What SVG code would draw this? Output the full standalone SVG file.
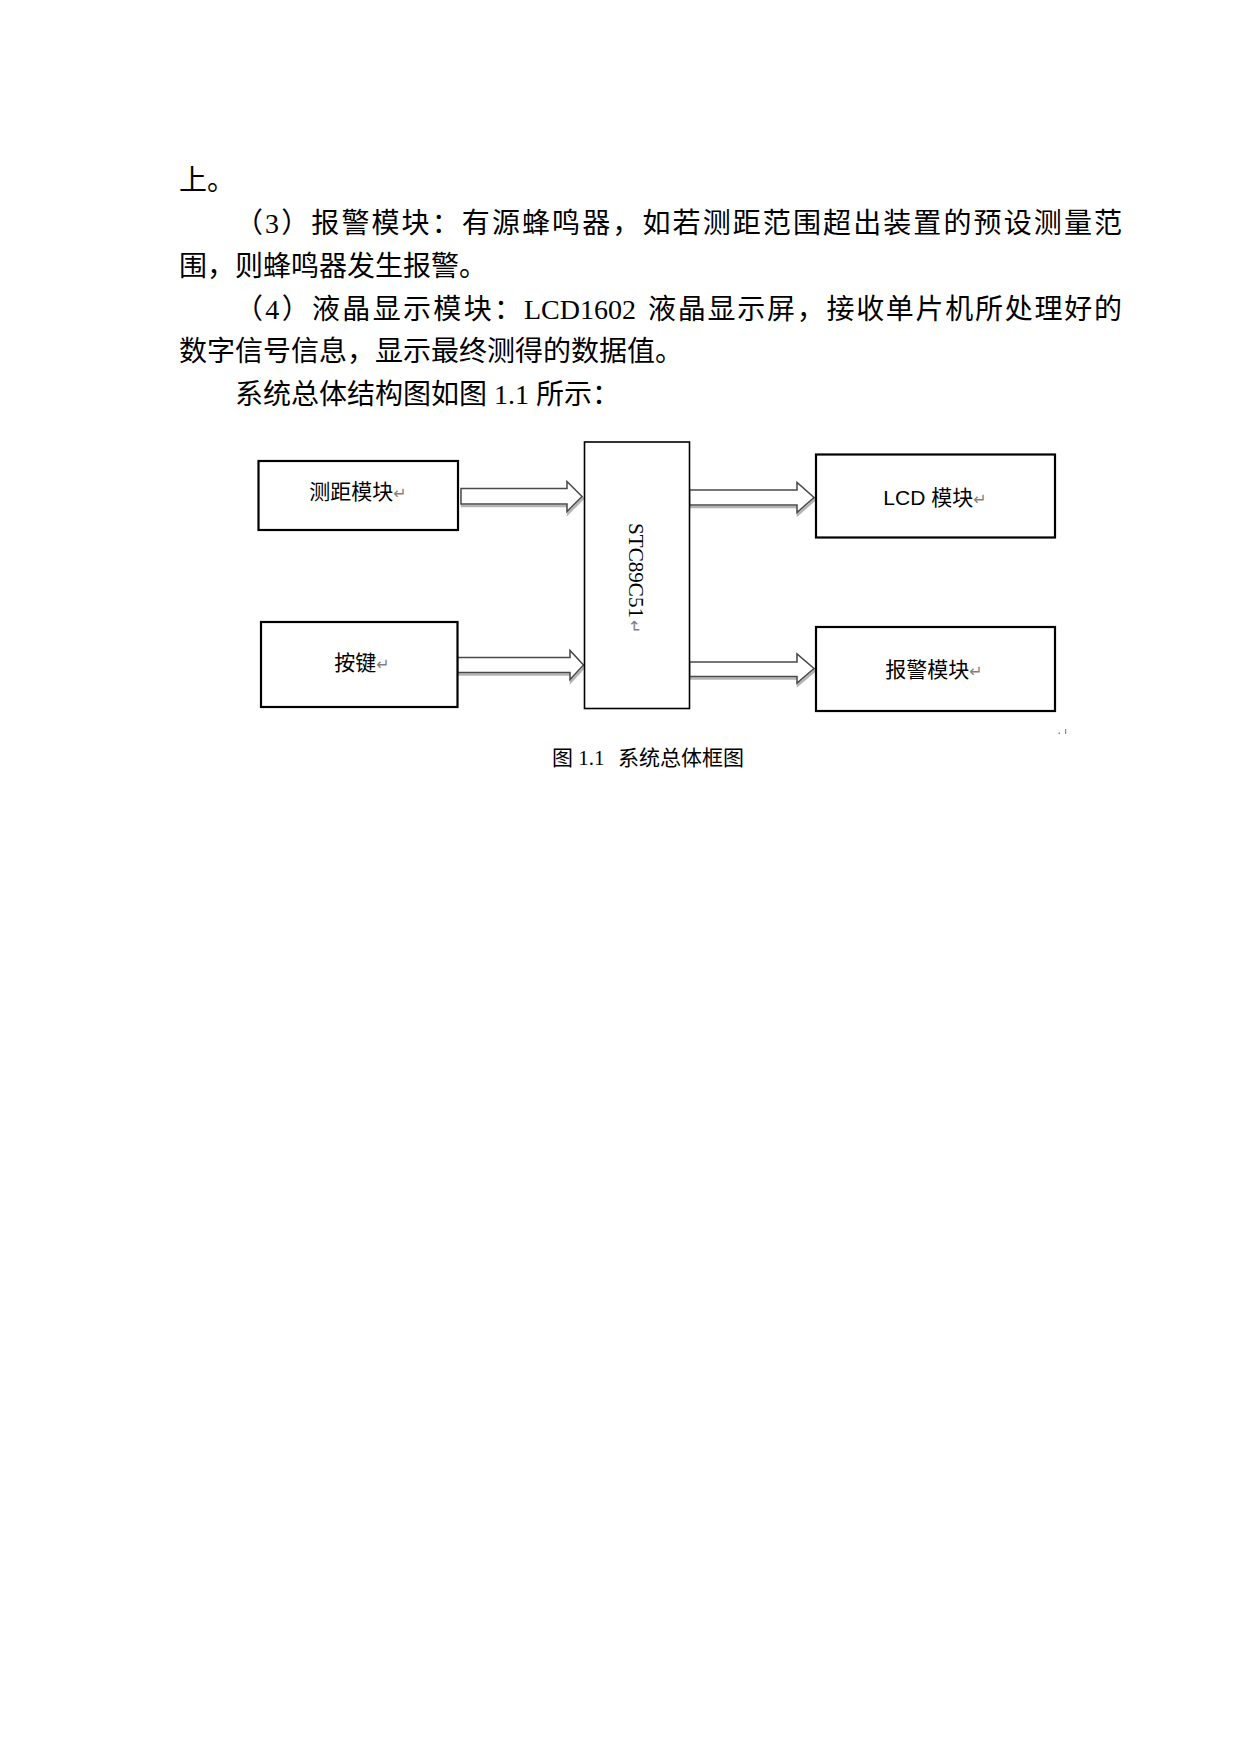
<svg xmlns="http://www.w3.org/2000/svg" width="1240" height="1754" viewBox="0 0 1240 1754">
<style>
.body{font-family:"Liberation Serif","Noto Sans CJK SC",serif;font-size:28px;fill:#000}
.cap{font-family:"Liberation Serif","Noto Sans CJK SC",serif;font-size:21px;fill:#000}
.lbl{font-family:"Liberation Sans","Noto Sans CJK SC",sans-serif;font-size:21px;fill:#000}
.stc{font-family:"Liberation Serif","Noto Sans CJK SC",serif;font-size:22px;fill:#000}
.ret{font-family:"DejaVu Sans",sans-serif;font-size:16px;fill:#808080}
.box{fill:#fff;stroke:#000;stroke-width:2.2}
.mcu{fill:#fff;stroke:#000;stroke-width:1.6}
.arr{fill:#fff;stroke:#4a4a4a;stroke-width:1.5;stroke-linejoin:miter}
.sh{fill:none;stroke:#b4b4b4;stroke-width:2.5}
</style>
<rect x="0" y="0" width="1240" height="1754" fill="#fff"/>
<g id="paragraph">
<text class="body" x="179" y="190">上。</text>
<text class="body" x="235" y="233" textLength="887" lengthAdjust="spacing">（3）报警模块：有源蜂鸣器，如若测距范围超出装置的预设测量范</text>
<text class="body" x="179" y="276">围，则蜂鸣器发生报警。</text>
<text class="body" y="318.5"><tspan x="235" textLength="287" lengthAdjust="spacing">（4）液晶显示模块：</tspan><tspan x="524">LCD1602</tspan><tspan x="648" textLength="474" lengthAdjust="spacing">液晶显示屏，接收单片机所处理好的</tspan></text>
<text class="body" x="179" y="361">数字信号信息，显示最终测得的数据值。</text>
<text class="body" x="235" y="403.5">系统总体结构图如图 1.1 所示：</text>
</g>
<g id="connectors">
<polygon class="sh" transform="translate(1,2)" points="461,488.5 567,488.5 567,481.5 582,496.5 567,511.5 567,504 461,504"/>
<polygon class="arr" points="461,488.5 567,488.5 567,481.5 582,496.5 567,511.5 567,504 461,504"/>
<polygon class="sh" transform="translate(1,2)" points="457.5,657.5 570,657.5 570,650.5 583.5,665 570,679.5 570,672.5 457.5,672.5"/>
<polygon class="arr" points="457.5,657.5 570,657.5 570,650.5 583.5,665 570,679.5 570,672.5 457.5,672.5"/>
<polygon class="sh" transform="translate(1,2)" points="689.5,490 797,490 797,482.5 814,497.5 797,512.5 797,505 689.5,505"/>
<polygon class="arr" points="689.5,490 797,490 797,482.5 814,497.5 797,512.5 797,505 689.5,505"/>
<polygon class="sh" transform="translate(1,2)" points="689.5,662 797,662 797,654 814,668.5 797,683 797,676.5 689.5,676.5"/>
<polygon class="arr" points="689.5,662 797,662 797,654 814,668.5 797,683 797,676.5 689.5,676.5"/>
</g>
<g id="node-ranging">
<rect class="box" x="258.5" y="461" width="199.5" height="69"/>
<text class="lbl" x="358" y="499" text-anchor="middle">测距模块<tspan class="ret">↵</tspan></text>
</g>
<g id="node-keys">
<rect class="box" x="261" y="622" width="196.5" height="85"/>
<text class="lbl" x="362" y="670" text-anchor="middle">按键<tspan class="ret">↵</tspan></text>
</g>
<g id="node-mcu">
<rect class="mcu" x="584.5" y="442" width="105" height="266.5"/>
<text class="stc" transform="translate(629,523) rotate(90)" x="0" y="0"><tspan textLength="95" lengthAdjust="spacingAndGlyphs">STC89C51</tspan><tspan class="ret" dx="2">↵</tspan></text>
</g>
<g id="node-lcd">
<rect class="box" x="816" y="454.5" width="239" height="83"/>
<text class="lbl" x="935" y="505" text-anchor="middle">LCD 模块<tspan class="ret">↵</tspan></text>
</g>
<g id="node-alarm">
<rect class="box" x="816" y="627" width="239" height="84"/>
<text class="lbl" x="934" y="676.5" text-anchor="middle">报警模块<tspan class="ret">↵</tspan></text>
</g>
<g id="marks">
<rect x="1058.5" y="732.5" width="1.5" height="1.5" fill="#888"/>
<rect x="1065" y="729" width="1.2" height="5" fill="#888"/>
</g>
<g id="caption">
<text class="cap" x="552" y="765">图 1.1<tspan x="618">系统总体框图</tspan></text>
</g>
</svg>
